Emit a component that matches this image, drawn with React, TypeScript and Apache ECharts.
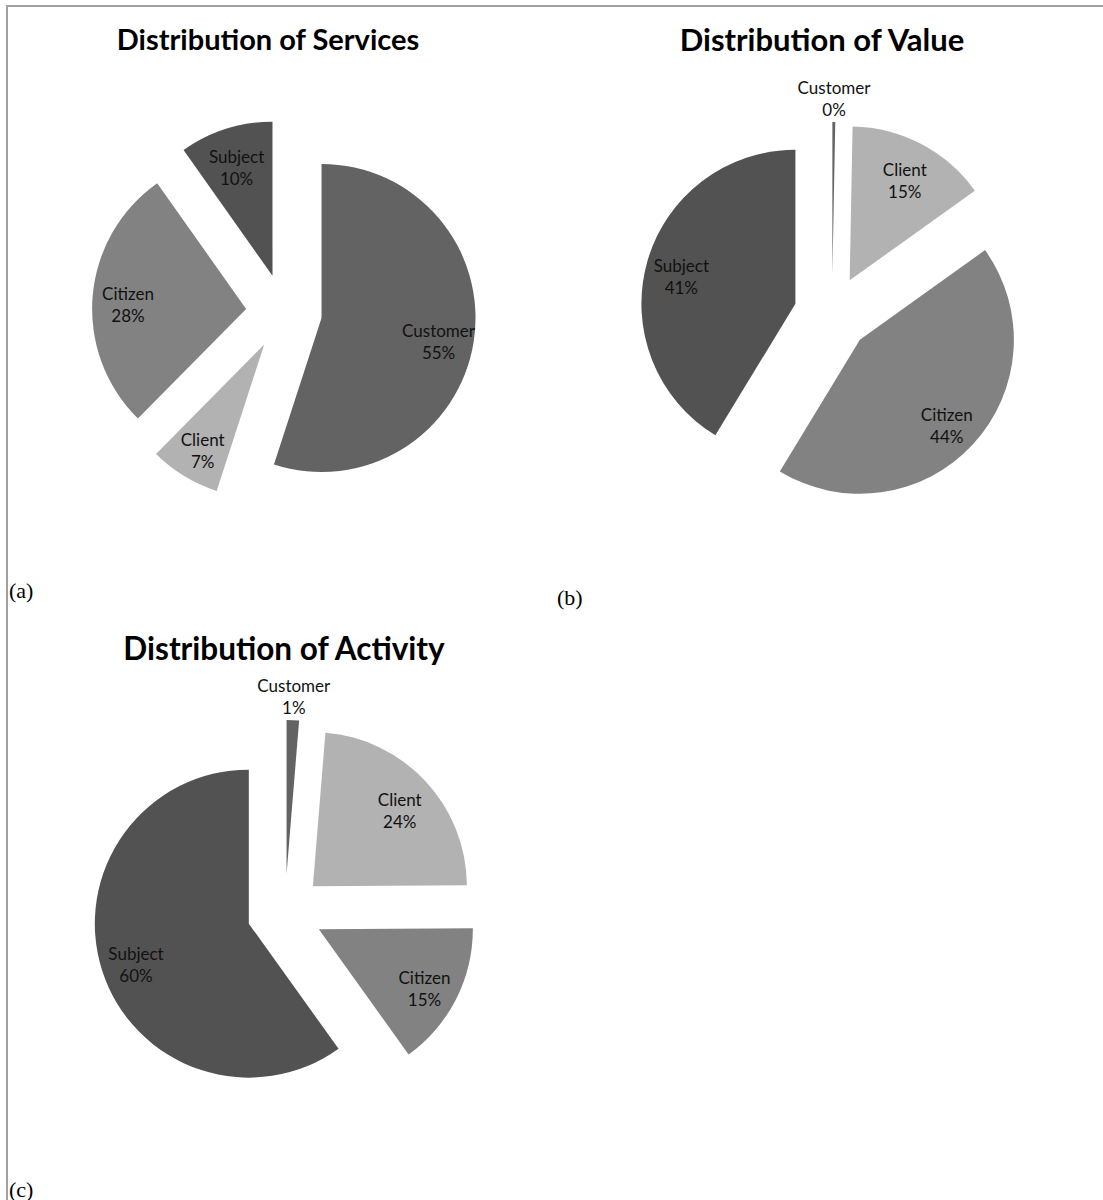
import React, { useEffect, useRef } from 'react';
import * as echarts from 'echarts';

// ---- data ----
const CATEGORIES = ['Customer', 'Client', 'Citizen', 'Subject'];
const SERVICES = [55.0, 7.4, 27.8, 9.8];
const VALUE = [0.3, 14.8, 43.6, 41.3];
const ACTIVITY = [1.3, 23.6, 15.2, 59.9];
const TITLES = ['Distribution of Services', 'Distribution of Value', 'Distribution of Activity'];
const PANEL_TAGS = ['(a)', '(b)', '(c)'];

// ---- style ----
const COLORS = ['#636363', '#b2b2b2', '#828282', '#525252'];
const RADIUS = 154;
const EXPLODE = 38;
const LABEL_FONT = 'Lato';
const SMALL_SHARE = 3; // slices below this percentage get their label outside

function pieSeries(values: number[], center: number[]) {
  const total = values.reduce((a, b) => a + b, 0);
  const base: any = {
    type: 'pie',
    center,
    startAngle: 90,
    clockwise: true,
    selectedMode: 'multiple',
    selectedOffset: EXPLODE,
    avoidLabelOverlap: false,
    silent: true,
    emphasis: { disabled: true },
    labelLine: { show: false },
    minAngle: 0,
  };
  const main = {
    ...base,
    radius: RADIUS,
    label: { show: false },
    data: values.map((v, i) => ({
      name: CATEGORIES[i],
      value: v,
      selected: true,
      itemStyle: { color: COLORS[i], borderWidth: 0 },
    })),
  };
  const labelRing = (radius: number[], small: boolean) => ({
    ...base,
    radius,
    z: 3,
    itemStyle: { color: 'rgba(0,0,0,0)', borderWidth: 0 },
    labelLayout: small ? undefined : { dy: 5 },
    label: {
      show: true,
      position: 'inside',
      rotate: 0,
      formatter: (p: any) => `${p.name}\n${Math.round(p.percent)}%`,
      fontFamily: LABEL_FONT,
      fontSize: 17,
      lineHeight: 22,
      color: '#111111',
    },
    data: values.map((v, i) => ({
      name: CATEGORIES[i],
      value: v,
      selected: true,
      label: { show: (v / total) * 100 < SMALL_SHARE === small },
    })),
  });
  return [main, labelRing([RADIUS * 0.5, RADIUS], false), labelRing([RADIUS + 6, RADIUS + 36], true)];
}

export default function App() {
  const ref = useRef<HTMLDivElement>(null);
  useEffect(() => {
    if (!ref.current) return;
    const chart = echarts.init(ref.current, undefined, { renderer: 'svg' });
    const titleStyle = (text: string, size: number) => ({
      text,
      fontFamily: LABEL_FONT,
      fontWeight: 'bold',
      fontSize: size,
      fill: '#000',
      align: 'center',
      verticalAlign: 'middle',
    });
    const tagStyle = (text: string) => ({
      text,
      fontFamily: 'Liberation Serif',
      fontSize: 22,
      fill: '#000',
      align: 'left',
      verticalAlign: 'middle',
    });
    chart.setOption({
      animation: false,
      backgroundColor: '#ffffff',
      series: [
        ...pieSeries(SERVICES, [284, 312]),
        ...pieSeries(VALUE, [832, 314]),
        ...pieSeries(ACTIVITY, [285, 912]),
      ],
      graphic: [
        { type: 'line', shape: { x1: 6, y1: 6, x2: 1103, y2: 6 }, style: { stroke: '#a0a0a0', lineWidth: 2 } },
        { type: 'line', shape: { x1: 7, y1: 5, x2: 7, y2: 1200 }, style: { stroke: '#a0a0a0', lineWidth: 2 } },
        { type: 'text', x: 268, y: 38, style: titleStyle(TITLES[0], 29) },
        { type: 'text', x: 822, y: 39, style: titleStyle(TITLES[1], 31) },
        { type: 'text', x: 284, y: 648, style: titleStyle(TITLES[2], 31.5) },
        { type: 'text', x: 9, y: 590, style: tagStyle(PANEL_TAGS[0]) },
        { type: 'text', x: 557, y: 597, style: tagStyle(PANEL_TAGS[1]) },
        { type: 'text', x: 9, y: 1189, style: tagStyle(PANEL_TAGS[2]) },
      ],
    });
    return () => chart.dispose();
  }, []);
  return (
    <div
      ref={ref}
      style={{ position: 'absolute', left: 0, top: 0, width: 1103, height: 1200, background: '#fff' }}
    />
  );
}
